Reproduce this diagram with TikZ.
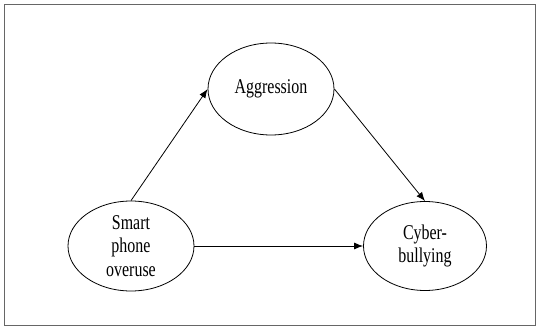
\documentclass[tikz,border=0pt]{standalone}
\usepackage{fontspec}
\setmainfont{Liberation Serif}[FakeStretch=0.76]
\usetikzlibrary{shapes.geometric,arrows.meta}

\tikzset{
    var/.style={ellipse, draw, line width=0.8pt, inner sep=0pt, align=center,
        font=\fontsize{21}{23.5}\selectfont},
    arr/.style={line width=0.8pt, -{Latex[length=9pt,width=7pt]}}
}

\begin{document}
\begin{tikzpicture}[x=1pt,y=-1pt]

        \useasboundingbox (0,0) rectangle (536,326);
        \draw[gray!80!black, line width=0.8pt] (4.5,4.5) rectangle (535,325);

        % the three variables
        \node[var, minimum width=126pt, minimum height=92pt] (aggr) at (271,89) {Aggression};
        \node[var, minimum width=126pt, minimum height=90pt] (phone) at (131,246) {Smart\\phone\\overuse};
        \node[var, minimum width=123pt, minimum height=89pt] (cyber) at (425,246) {Cyber-\\bullying};

        % paths
        \draw[arr] (phone.north) -- (aggr.west);
        \draw[arr] (aggr.east) -- (cyber.north);
        \draw[arr] (phone.east) -- (cyber.west);

    \end{tikzpicture}
\end{document}
